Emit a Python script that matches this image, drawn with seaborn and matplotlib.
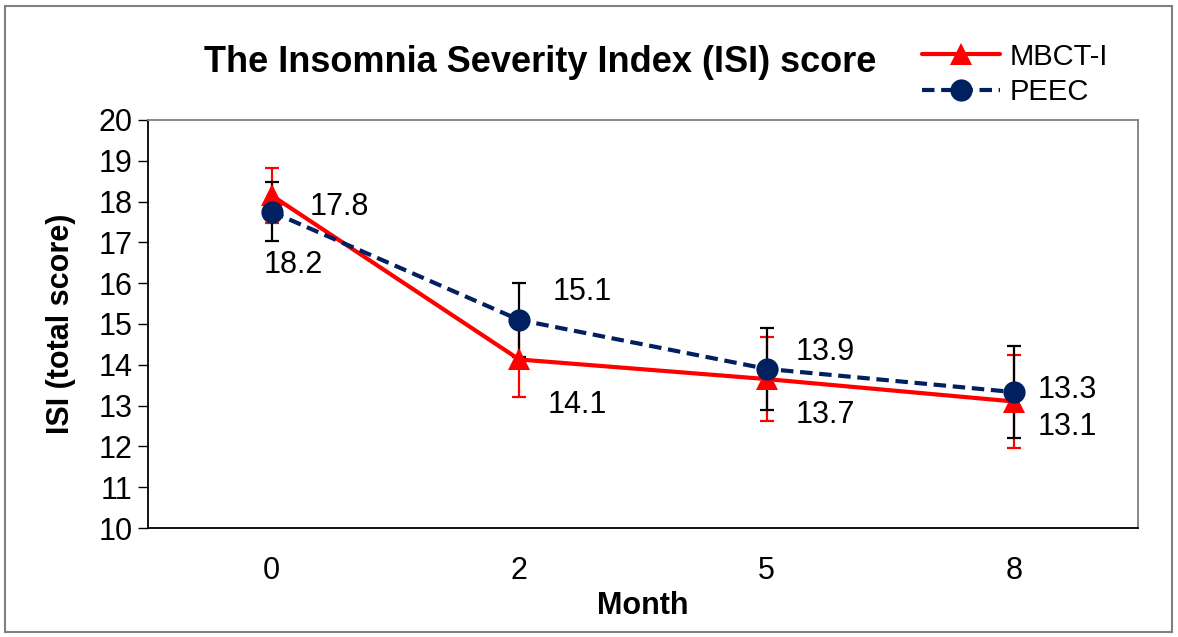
import pandas as pd
import seaborn as sns
import matplotlib.pyplot as plt
from matplotlib.patches import Rectangle

months = ['0', '2', '5', '8']
mbct_mean = [18.15, 14.13, 13.65, 13.1]
mbct_err = [0.68, 0.92, 1.02, 1.14]
peec_mean = [17.75, 15.1, 13.9, 13.33]
peec_err = [0.72, 0.9, 1.0, 1.13]
mbct_labels = ['18.2', '14.1', '13.7', '13.1']
peec_labels = ['17.8', '15.1', '13.9', '13.3']

data = pd.DataFrame({
    'Month': months * 2,
    'ISI': mbct_mean + peec_mean,
    'Group': ['MBCT-I'] * 4 + ['PEEC'] * 4,
})

sns.set_style('white')
plt.rcParams['font.family'] = ['Liberation Sans', 'DejaVu Sans']
plt.rcParams['text.color'] = 'black'
plt.rcParams['axes.labelcolor'] = 'black'
plt.rcParams['xtick.color'] = 'black'
plt.rcParams['ytick.color'] = 'black'

fig = plt.figure(figsize=(11.78, 6.37), dpi=100)
ax = fig.add_axes([148 / 1178, 1 - 528 / 637, (1138 - 148) / 1178, (528 - 120) / 637])

colors = {'MBCT-I': '#ff0000', 'PEEC': '#002060'}
sns.lineplot(data=data, x='Month', y='ISI', hue='Group', style='Group',
             palette=colors, markers={'MBCT-I': '^', 'PEEC': 'o'},
             dashes={'MBCT-I': '', 'PEEC': (3, 1.6)}, linewidth=3,
             markersize=16, markeredgewidth=0, ax=ax, sort=False, zorder=3)

# error bars
ax.errorbar(months, peec_mean, yerr=peec_err, fmt='none', ecolor='black',
            elinewidth=1.6, capsize=5, capthick=1.6, zorder=2)
ax.errorbar(months, mbct_mean, yerr=mbct_err, fmt='none', ecolor='#ff0000',
            elinewidth=1.6, capsize=5, capthick=1.6, zorder=1)

# value labels (x offset in pixels, y shift in data units)
peec_off = [(38, 0.12), (33, 0.68), (29, 0.41), (23, 0.05)]
mbct_off = [(-8, -1.7), (28, -1.12), (29, -0.88), (23, -0.62)]
for i, m in enumerate(months):
    dx, dy = peec_off[i]
    ax.annotate(peec_labels[i], (i, peec_mean[i] + dy), xytext=(dx, 0),
                textcoords='offset pixels', fontsize=22, va='center', ha='left')
    dx, dy = mbct_off[i]
    ax.annotate(mbct_labels[i], (i, mbct_mean[i] + dy), xytext=(dx, 0),
                textcoords='offset pixels', fontsize=22, va='center', ha='left')

ax.set_xlim(-0.5, 3.5)
ax.set_ylim(10, 20)
ax.set_yticks(range(10, 21))
ax.tick_params(axis='y', labelsize=22, length=7, width=1, color='black',
               left=True, direction='out', pad=4)
ax.tick_params(axis='x', labelsize=22, length=0, pad=20)
ax.set_xlabel('Month', fontsize=22, fontweight='bold', labelpad=4)
ax.set_ylabel('ISI (total score)', fontsize=22, fontweight='bold', labelpad=16)

for side in ['left', 'bottom']:
    ax.spines[side].set_color('black')
    ax.spines[side].set_linewidth(1.3)
for side in ['top', 'right']:
    ax.spines[side].set_color('#808080')
    ax.spines[side].set_linewidth(1.3)

fig.text(540 / 1178, 1 - 62 / 637, 'The Insomnia Severity Index (ISI) score',
         fontsize=26, fontweight='bold', ha='center', va='center')

handles, labels = ax.get_legend_handles_labels()
ax.legend(handles, labels, loc='upper left', bbox_to_anchor=(910 / 1178, 1 - 31 / 637),
          bbox_transform=fig.transFigure, frameon=False, fontsize=21,
          handlelength=2.7, handletextpad=0.3, labelspacing=0.25, borderaxespad=0)

fig.add_artist(Rectangle((5 / 1178, 5 / 637), 1 - 11 / 1178, 1 - 11 / 637,
                         transform=fig.transFigure, fill=False,
                         edgecolor='#808080', linewidth=1.5))

fig.savefig('out.png', dpi=100)
